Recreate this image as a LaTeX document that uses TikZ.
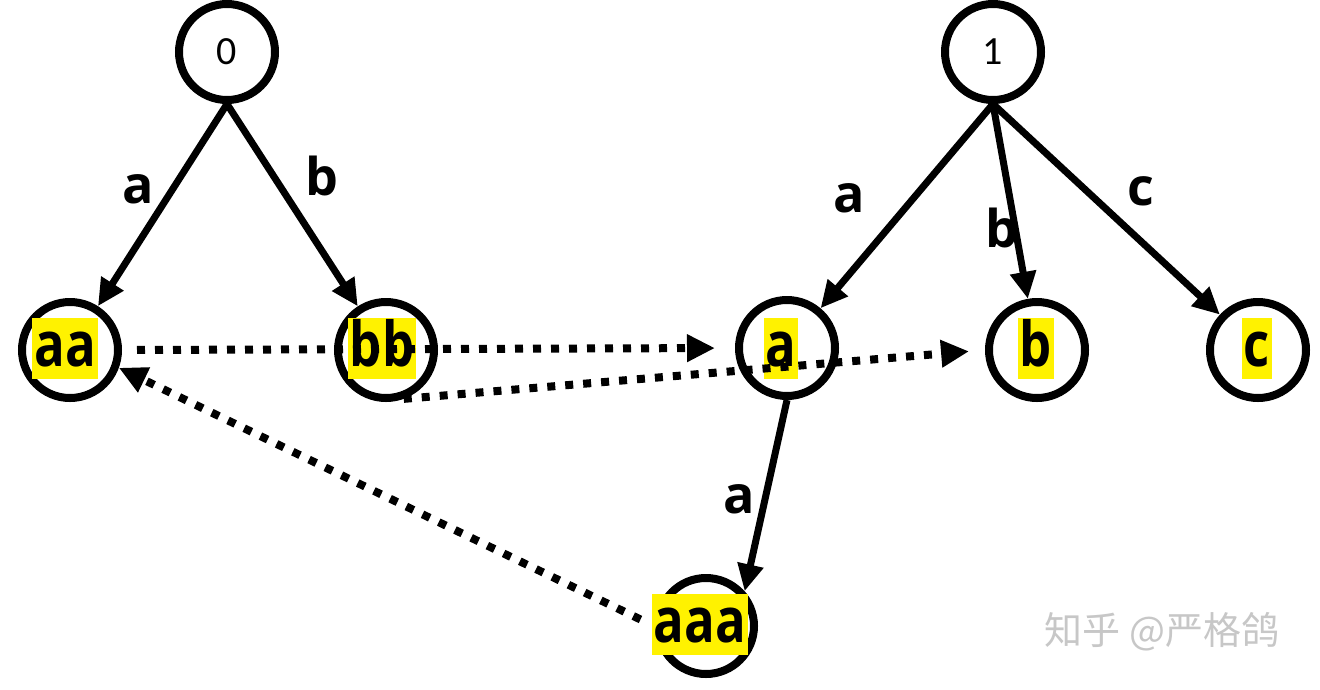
\documentclass[tikz,border=0pt]{standalone}
\usepackage{fontspec}
\usetikzlibrary{arrows.meta}
\newfontfamily\labff{Open Sans}
\newfontfamily\labnarrow[FakeStretch=0.82]{Open Sans}
\newfontfamily\numff{Carlito}
\newfontfamily\cjkff{Noto Sans CJK SC}
\newcommand\labfont{\labnarrow\bfseries\fontsize{62pt}{62pt}\selectfont}
\newcommand\edgefont{\labff\bfseries\fontsize{52pt}{52pt}\selectfont}
\newcommand\numfont{\numff\fontsize{40pt}{40pt}\selectfont}
\tikzset{
  st/.style={circle, draw, line width=8pt, minimum size=96pt, inner sep=0pt, fill=white, font=\numfont},
  hl/.style={fill=yellow, inner xsep=2pt, inner ysep=0pt, text height=48pt, text depth=13pt, font=\labfont, anchor=base},
  el/.style={font=\edgefont, inner sep=0pt, anchor=base},
  tr/.style={line width=7pt, -{Triangle[length=27pt,width=25pt]}},
  dots/.style={line width=8pt, dash pattern=on 8pt off 10pt, -{Triangle[length=28pt,width=26pt]}},
}
\begin{document}
\begin{tikzpicture}[x=1pt,y=-1pt]
\useasboundingbox[fill=white] (0,0) rectangle (1320,689);
% state circles
\node[st] (n0) at (227,52) {0};
\node[st] (n1) at (993,52) {1};
\node[st] (aa) at (70,350) {};
\node[st] (bb) at (386,350) {};
\node[st] (a) at (787,348) {};
\node[st] (b) at (1037,350) {};
\node[st] (c) at (1258,350) {};
\node[st] (aaa) at (706,626) {};
% highlighted labels
\node[hl] (aa-t) at (65,366) {aa};
\node[hl] (bb-t) at (382,366) {bb};
\node[hl] (a-t) at (781,366) {a};
\node[hl] (b-t) at (1036,366) {b};
\node[hl] (c-t) at (1257,366) {c};
\node[hl] (aaa-t) at (700,642) {aaa};
% tree edges
\draw[tr] (n0.south) -- (aa);
\draw[tr] (n0.south) -- (bb);
\draw[tr] (n1.south) -- (a);
\draw[tr] (n1.south) -- (b);
\draw[tr] (n1.south) -- (c);
\draw[tr] (a.south) -- (aaa.42);
% edge labels
\node[el] (e1) at (138,203) {a};
\node[el] (e2) at (322,195) {b};
\node[el] (e3) at (849,212) {a};
\node[el] (e4) at (1002,247) {b};
\node[el] (e5) at (1141,205) {c};
\node[el] (e6) at (739,513) {a};
% failure links
\draw[dots, shorten <=15pt, shorten >=20pt] (aa.east) -- (a.west);
\draw[dots, shorten >=16pt] (bb.-70) -- (b.west);
\draw[dots, shorten <=15pt] (aaa.west) -- (aa.-20);
% watermark
\node[font=\cjkff\fontsize{38pt}{38pt}\selectfont, text=black!22, inner sep=0pt] (wm) at (1162,632) {知乎 @严格鸽};
\end{tikzpicture}
\end{document}
